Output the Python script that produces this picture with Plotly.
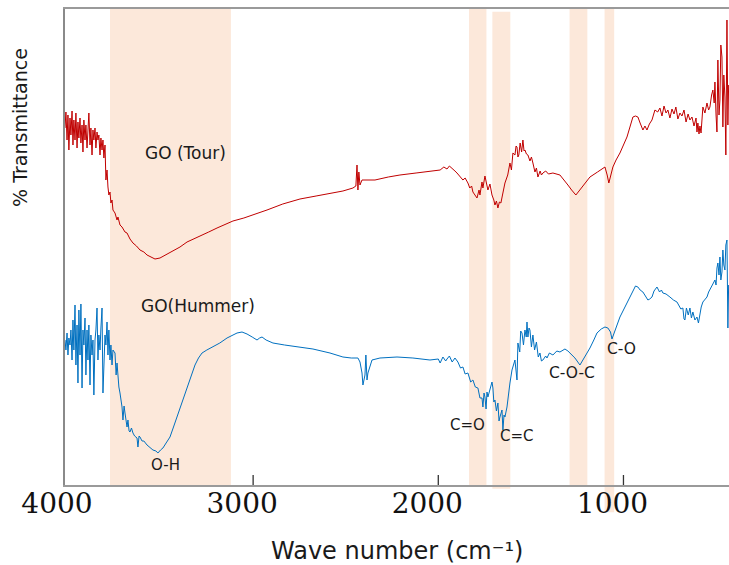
import plotly.graph_objects as go

# ---------------- data ----------------
tour_wn = [4016, 4011, 4005, 4000, 3995, 3989, 3984, 3978, 3973, 3968, 3962, 3957, 3951, 3946, 3941, 3935,
           3930, 3924, 3919, 3914, 3908, 3903, 3897, 3892, 3887, 3881, 3876, 3870, 3865, 3860, 3854, 3849,
           3843, 3838, 3833, 3827, 3822, 3816, 3811, 3806, 3800, 3795, 3789, 3784, 3779, 3773, 3768, 3762,
           3757, 3746, 3735, 3730, 3719, 3708, 3692, 3681, 3665, 3649, 3630, 3611, 3590, 3573, 3550, 3530,
           3503, 3475, 3449, 3420, 3395, 3357, 3320, 3287, 3240, 3195, 3150, 3109, 3050, 3001, 2960, 2925,
           2840, 2747, 2660, 2569, 2515, 2461, 2445, 2439, 2434, 2429, 2423, 2412, 2396, 2342, 2270, 2207,
           2120, 2045, 1990, 1970, 1953, 1940, 1926, 1910, 1899, 1885, 1867, 1855, 1840, 1830, 1820, 1813,
           1800, 1791, 1780, 1775, 1764, 1759, 1748, 1743, 1737, 1732, 1721, 1710, 1700, 1694, 1686, 1678,
           1670, 1662, 1650, 1640, 1625, 1613, 1605, 1597, 1586, 1580, 1575, 1570, 1565, 1558, 1550, 1543,
           1537, 1532, 1524, 1516, 1505, 1497, 1489, 1478, 1470, 1462, 1450, 1443, 1435, 1420, 1405, 1381,
           1343, 1320, 1300, 1280, 1257, 1240, 1224, 1200, 1181, 1140, 1100, 1088, 1079, 1068, 1057, 1040,
           1019, 1000, 981, 965, 949, 935, 922, 910, 895, 884, 873, 860, 846, 838, 830, 815,
           803, 792, 781, 770, 760, 749, 738, 727, 717, 706, 695, 684, 673, 662, 651, 641,
           630, 619, 608, 603, 598, 592, 587, 581, 576, 571, 560, 549, 540, 533, 524, 517,
           510, 506, 500, 495, 490, 484, 479, 474, 468, 463, 458, 452, 447, 441, 436, 432]
tour_t = [71.4, 74.6, 69, 74, 67, 73.4, 70, 74.8, 68, 73, 69, 74.4, 67.4, 72.6, 69.4, 73.4,
          68.4, 72, 66.6, 73, 69, 72, 67.4, 71.8, 74.4, 68, 71.4, 66, 71, 69, 71.4, 67.4,
          70.6, 69, 70, 66, 69.4, 67, 69, 65.4, 68, 61, 63, 59.6, 58, 58.6, 56.4, 57,
          55, 54.4, 53, 53.6, 52, 51.6, 50.6, 50.4, 49.2, 48.4, 47.8, 47, 46.6, 46, 45.6, 45.2,
          45.4, 46, 46.6, 47.2, 47.6, 48.6, 49.2, 49.8, 50.6, 51.4, 52.2, 52.8, 53.4, 54, 54.6, 55,
          56.2, 57.2, 57.8, 58.4, 58.8, 59.4, 59.8, 64, 59, 62.6, 60, 61, 61, 61, 61.6, 62,
          62.4, 62.8, 63, 63.6, 63.2, 63.8, 63.4, 62.8, 62.4, 61.8, 61, 61.4, 60.4, 59.4, 59.8, 58.6,
          57.8, 57.4, 59, 58, 60.6, 59.4, 61.8, 61, 59.4, 59, 60.2, 58, 57, 56, 56.8, 55.4,
          56.6, 56.4, 58.6, 60.4, 62, 64.4, 63, 66.4, 66, 67.8, 67.6, 65.6, 66, 68.4, 66.6, 69,
          66.8, 67, 66.2, 66, 64.8, 65.6, 64.4, 62.6, 63.4, 61.6, 62.8, 62, 62.4, 62.8, 62.2, 62.4,
          62, 61, 60, 59, 58, 58.8, 59.6, 60.6, 61.6, 62.6, 63.6, 62, 60.4, 62, 63.6, 65,
          66.4, 68, 69.6, 71.6, 73.6, 73.8, 73.6, 72.4, 71, 71.8, 71, 72.2, 73, 74, 75, 74.6,
          75.4, 73.8, 75.8, 74.4, 75, 73.4, 75.2, 74.2, 75.6, 73.2, 74.4, 73.8, 75, 72.6, 74.2, 73,
          73.6, 71.8, 73.4, 70.6, 72.4, 70.2, 71.8, 70.4, 73, 75.6, 74.4, 76.4, 75, 75.6, 78, 79,
          76.4, 80.6, 74, 70.6, 85, 74, 77, 88, 85.6, 71.6, 82, 77.6, 66, 93, 72, 80]

hummer_wn = [4016, 4011, 4005, 4000, 3995, 3989, 3984, 3978, 3973, 3968, 3962, 3957, 3951, 3946, 3941, 3935,
             3930, 3924, 3919, 3914, 3908, 3903, 3897, 3892, 3887, 3881, 3876, 3870, 3865, 3860, 3854, 3849,
             3843, 3838, 3833, 3827, 3822, 3816, 3811, 3806, 3800, 3795, 3789, 3784, 3779, 3773, 3768, 3762,
             3757, 3746, 3740, 3735, 3730, 3725, 3719, 3713, 3708, 3703, 3697, 3692, 3686, 3681, 3676, 3670,
             3665, 3657, 3649, 3640, 3627, 3622, 3616, 3611, 3600, 3590, 3573, 3560, 3541, 3525, 3514, 3500,
             3487, 3470, 3449, 3430, 3411, 3385, 3357, 3335, 3314, 3295, 3276, 3250, 3217, 3180, 3141, 3110,
             3087, 3060, 3033, 3005, 2979, 2965, 2952, 2930, 2893, 2830, 2763, 2677, 2585, 2515, 2470, 2434,
             2423, 2412, 2407, 2401, 2396, 2391, 2385, 2380, 2374, 2358, 2315, 2223, 2137, 2045, 2000, 1990,
             1975, 1960, 1953, 1940, 1925, 1910, 1894, 1880, 1867, 1855, 1840, 1825, 1813, 1800, 1786, 1775,
             1764, 1759, 1753, 1748, 1742, 1737, 1732, 1721, 1710, 1705, 1700, 1694, 1686, 1678, 1672, 1667,
             1661, 1656, 1651, 1645, 1640, 1629, 1613, 1602, 1586, 1580, 1575, 1570, 1560, 1555, 1548, 1540,
             1532, 1525, 1521, 1516, 1510, 1505, 1497, 1489, 1480, 1470, 1460, 1451, 1443, 1435, 1420, 1413,
             1400, 1381, 1360, 1343, 1316, 1300, 1289, 1262, 1235, 1208, 1181, 1160, 1143, 1120, 1100, 1084,
             1070, 1062, 1046, 1019, 1000, 981, 965, 949, 935, 922, 910, 895, 880, 868, 858, 846,
             835, 819, 805, 795, 787, 770, 749, 730, 711, 700, 690, 679, 673, 668, 660, 650,
             641, 633, 625, 614, 603, 595, 587, 580, 571, 560, 549, 540, 533, 520, 506, 500,
             495, 490, 484, 479, 474, 468, 463, 458, 452, 447, 441, 436, 432]
hummer_t = [29, 27, 30.4, 26, 29.4, 28, 31, 25, 33, 27, 36, 24, 32, 20.4, 35, 26,
            36.2, 19.4, 31, 28, 33.4, 22, 31, 25, 32, 20, 30, 26, 29, 18, 29, 31,
            35.4, 25, 30, 27, 31.4, 35.4, 18.4, 26, 30, 28, 32.6, 26, 31, 25, 28, 24,
            27, 26.4, 22, 24.4, 21, 19.6, 18.4, 17, 15.6, 13, 15.8, 14.4, 12.8, 11.6, 13, 10.8,
            10.6, 11.4, 10.4, 9.8, 9.4, 7.6, 9.8, 9.6, 8.8, 8.8, 8, 7.6, 7, 6.8, 6.4, 7,
            7.4, 8.4, 9.6, 11.6, 13.6, 16.6, 19.6, 22, 24, 25.4, 26.4, 27, 27.6, 28.4, 29.4, 30,
            30.4, 30.6, 30.2, 29.6, 29, 29.4, 29.6, 29, 28.4, 28, 27.6, 27.2, 26.4, 25.6, 25.4, 25.4,
            24.6, 22.4, 20, 21.4, 22, 26, 21, 22.4, 23, 25, 25.4, 25.6, 25.4, 25, 25.2, 24.4,
            25.6, 24.8, 25.2, 25.8, 24.6, 25.4, 24.6, 23.4, 23.6, 22.2, 22.4, 20.6, 21, 19.6, 19.4, 17.4,
            17.4, 15.6, 18.4, 17.6, 15.2, 18.6, 17.6, 19, 20.6, 19.4, 16.6, 17, 14.8, 16.4, 12.8, 13.6,
            14.4, 15, 11, 14, 13.6, 15.6, 20.4, 23, 25, 22.4, 21, 28.4, 26.6, 30.8, 30.4, 28,
            31, 29.6, 32.6, 29.6, 31.4, 31, 27.6, 30, 27, 28.6, 25.6, 26.4, 24.8, 25, 25.8, 25.4,
            26.4, 26, 26.8, 26.6, 27.2, 26.8, 26.4, 25.4, 24, 25.6, 27.4, 29, 30.4, 31.2, 31.6, 31.4,
            30.6, 29.2, 31, 33.6, 35, 36.4, 37.8, 39, 39.8, 39.6, 39, 38.6, 37.6, 37, 37.2, 37.6,
            38.8, 39.6, 38.6, 39, 38.4, 38.2, 37.6, 37, 36.6, 36, 35.2, 35.4, 33.2, 33, 35.4, 34,
            35.4, 33.4, 34.6, 33, 33.6, 32.4, 34.4, 35.6, 36.6, 37, 37.6, 38.6, 39, 40, 41, 40,
            43.4, 44.4, 42, 45.6, 41, 42.6, 47, 44, 43, 48, 49, 31.4, 40]

# highlighted absorption bands (wavenumber ranges)
band_ranges = [(3773, 3120), (1834, 1740), (1708, 1611), (1291, 1195), (1102, 1050)]

# text labels: (text, wavenumber, transmittance)
label_texts = ["GO (Tour)", "GO(Hummer)", "O-H", "C=O", "C=C", "C-O-C", "C-O"]
label_wn = [3363, 3298, 3471, 1840, 1575, 1278, 1008]
label_t = [66.4, 35.8, 4.0, 12.0, 9.8, 22.4, 27.2]

tick_vals = [4000, 3000, 2000, 1000]
tick_text = ["4000", "3000", "2000", "1000"]

# ---------------- figure ----------------
fig = go.Figure()

# vertical extents (paper coords) for each band: styling only
band_extent = [(0.0, 1.0), (0.0, 1.0), (-0.008, 0.994), (0.0, 1.0), (-0.057, 1.0)]
for (x0, x1), (y0, y1) in zip(band_ranges, band_extent):
    fig.add_shape(type="rect", xref="x", yref="paper", x0=x0, x1=x1, y0=y0, y1=y1,
                  fillcolor="#FCE8DA", line_width=0, layer="below")

# inward tick marks at the labelled wavenumbers (4000 sits on the left axis)
for v in tick_vals[1:]:
    fig.add_shape(type="line", xref="x", yref="paper", x0=v, x1=v, y0=0, y1=0.021,
                  line=dict(color="#333", width=1.3), layer="above")

fig.add_trace(go.Scatter(x=tour_wn, y=tour_t, mode="lines",
                         line=dict(color="#C00000", width=1), name="GO (Tour)"))
fig.add_trace(go.Scatter(x=hummer_wn, y=hummer_t, mode="lines",
                         line=dict(color="#0070C0", width=1), name="GO(Hummer)"))

sizes = [17, 17, 15, 15, 15, 15.5, 15.5]
for txt, xw, yt, fs in zip(label_texts, label_wn, label_t, sizes):
    fig.add_annotation(x=xw, y=yt, text=txt, showarrow=False, xanchor="center", yanchor="middle",
                       font=dict(family="DejaVu Sans", size=fs, color="#1a1a1a"))

fig.add_annotation(xref="paper", yref="paper", x=-0.068, y=0.752, text="% Transmittance",
                   textangle=-90, showarrow=False, xanchor="center", yanchor="middle",
                   font=dict(family="DejaVu Sans", size=19, color="#1a1a1a"))
fig.add_annotation(xref="paper", yref="paper", x=0.5, y=-0.139, text="Wave number (cm⁻¹)",
                   showarrow=False, xanchor="center", yanchor="middle",
                   font=dict(family="DejaVu Sans", size=24, color="#1a1a1a"))

fig.update_layout(
    width=729, height=565,
    margin=dict(l=65, r=0, t=9, b=80, autoexpand=False),
    paper_bgcolor="white", plot_bgcolor="white",
    showlegend=False,
    xaxis=dict(range=[4016, 430], tickvals=tick_vals, ticktext=tick_text,
               ticks="", showline=True, linecolor="#9a9a9a", linewidth=1.5, mirror=True,
               showgrid=False, zeroline=False, automargin=False,
               ticklabelshift=11, ticklabelstandoff=-7,
               tickfont=dict(family="DejaVu Serif", size=28, color="#111")),
    yaxis=dict(range=[0, 95.2], showticklabels=False, ticks="",
               showline=True, linecolor="#8a8a8a", linewidth=1.5, automargin=False,
               showgrid=False, zeroline=False),
)

# remove the browser's default page margin so the figure fills the window exactly
fig.write_html("out.html", config={"displayModeBar": False},
               post_script="document.body.style.margin='0';document.body.style.overflow='hidden';")
